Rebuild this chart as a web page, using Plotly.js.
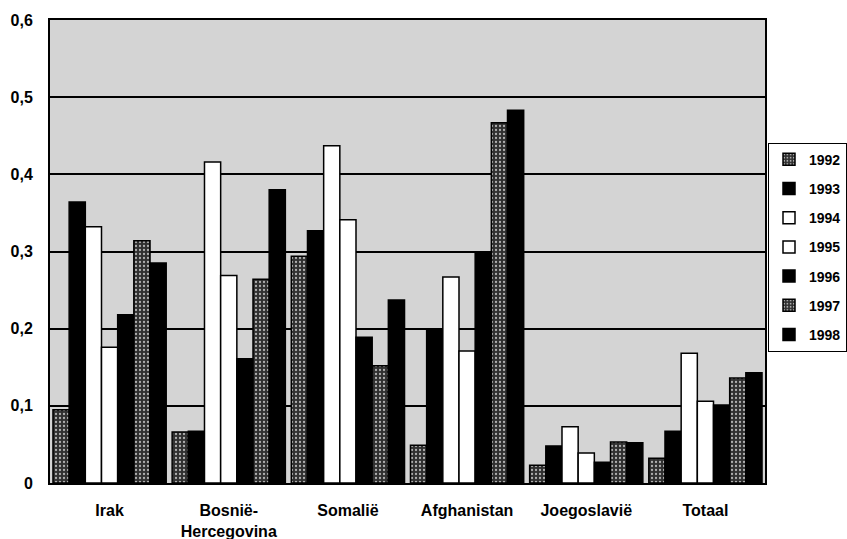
<!DOCTYPE html>
<html>
<head>
<meta charset="utf-8">
<script src="https://cdn.plot.ly/plotly-3.0.1.min.js"></script>
<style>html,body{margin:0;padding:0;background:#fff;}#chart{width:847px;height:539px;}</style>
</head>
<body>
<div id="chart"></div>
<script>
const categories = ["Irak", "Bosnië-<br>Hercegovina", "Somalië", "Afghanistan", "Joegoslavië", "Totaal"];
const years = ["1992", "1993", "1994", "1995", "1996", "1997", "1998"];
const v1992 = [0.095, 0.066, 0.294, 0.049, 0.023, 0.032];
const v1993 = [0.364, 0.067, 0.327, 0.200, 0.048, 0.067];
const v1994 = [0.332, 0.416, 0.437, 0.267, 0.073, 0.168];
const v1995 = [0.176, 0.269, 0.341, 0.171, 0.039, 0.106];
const v1996 = [0.218, 0.161, 0.189, 0.297, 0.027, 0.101];
const v1997 = [0.314, 0.264, 0.152, 0.467, 0.053, 0.136];
const v1998 = [0.285, 0.380, 0.237, 0.483, 0.052, 0.143];
const series = [v1992, v1993, v1994, v1995, v1996, v1997, v1998];

const speckled = {shape: ".", fgcolor: "#b0b0b0", bgcolor: "#303030", size: 4, solidity: 0.25};
const styles = [
  {color: "#303030", pattern: speckled},
  {color: "#000000"},
  {color: "#ffffff"},
  {color: "#ffffff"},
  {color: "#000000"},
  {color: "#303030", pattern: speckled},
  {color: "#000000"}
];

const traces = years.map((y, i) => ({
  type: "bar",
  name: y,
  x: categories,
  y: series[i],
  legendgroup: y,
  marker: Object.assign({line: {color: "#000", width: 1.5}}, styles[i])
}));

const fam = "Liberation Sans, Arial, sans-serif";
const boldFont = {family: fam, size: 16, color: "#000", weight: "bold"};

const layout = {
  width: 847, height: 539,
  margin: {l: 50, r: 82, t: 20, b: 56, autoexpand: false},
  paper_bgcolor: "#ffffff",
  plot_bgcolor: "#d4d4d4",
  separators: ",.",
  barmode: "group",
  bargap: 0.05,
  bargroupgap: 0,
  showlegend: true,
  font: {family: fam, size: 12, color: "#000"},
  xaxis: {
    showgrid: false, showline: true, linecolor: "#000", linewidth: 2, mirror: true,
    ticks: "outside", ticklen: 12, tickcolor: "rgba(0,0,0,0)",
    tickfont: boldFont
  },
  yaxis: {
    range: [0, 0.6], dtick: 0.1, tick0: 0,
    showgrid: true, gridcolor: "#000", gridwidth: 2,
    showline: true, linecolor: "#000", linewidth: 2, mirror: true,
    zeroline: false, ticks: "outside", ticklen: 12, tickcolor: "rgba(0,0,0,0)",
    tickfont: boldFont
  },
  legend: {
    x: 1.0, y: 0.735, xanchor: "left", yanchor: "top",
    bordercolor: "#000", borderwidth: 1, bgcolor: "#fff",
    font: {family: fam, size: 14, color: "#000", weight: "bold"},
    tracegroupgap: 8, traceorder: "grouped",
    itemwidth: 30
  }
};
// place legend left edge near x=768 px
layout.legend.x = (768 - 50) / (847 - 50 - 82);

Plotly.newPlot("chart", traces, layout, {displayModeBar: false, staticPlot: true});
</script>
</body>
</html>
